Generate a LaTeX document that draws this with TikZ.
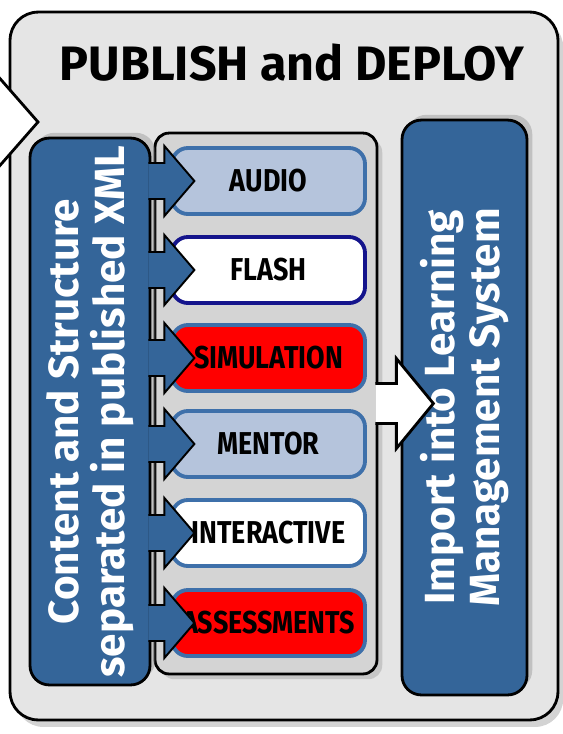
\documentclass[tikz,border=0pt]{standalone}
\usepackage{fontspec}
\setmainfont{Fira Sans}
\newfontfamily\tagfont[FakeStretch=0.85]{Fira Sans}
\usetikzlibrary{shadows, positioning}

\definecolor{boxblue}{RGB}{52,101,153}
\definecolor{tagblue}{RGB}{181,196,220}
\definecolor{tagline}{RGB}{62,112,170}
\definecolor{flashline}{RGB}{20,20,140}
\definecolor{framegray}{RGB}{229,229,229}
\definecolor{traygray}{RGB}{212,212,212}

\begin{document}
\begin{tikzpicture}[
        x=0.02cm, y=-0.02cm,
        frame/.style={draw, line width=1.6pt, rounded corners=16pt, fill=framegray,
            drop shadow={opacity=0.35, shadow xshift=3pt, shadow yshift=-4pt}},
        tray/.style={draw, line width=1.6pt, rounded corners=8pt, fill=traygray, inner sep=0pt,
            drop shadow={opacity=0.3, shadow xshift=3pt, shadow yshift=-3pt}},
        stage/.style={draw, line width=1.6pt, rounded corners=11pt, fill=boxblue, text=white, inner sep=0pt,
            rotate=90, align=center, font=\bfseries\fontsize{24}{26}\selectfont,
            drop shadow={opacity=0.35, shadow xshift=3pt, shadow yshift=3pt}},
        tag/.style={draw=tagline, line width=2.2pt, rounded corners=9pt, inner sep=0pt,
            minimum width=3.86cm, minimum height=1.32cm, font=\tagfont\bfseries\fontsize{18}{20}\selectfont},
        feed/.style={draw, fill=boxblue, line width=1.1pt, line join=miter},
        push/.style={draw, fill=white, line width=1.6pt, line join=miter},
        title/.style={font=\bfseries\fontsize{27.5}{32}\selectfont}
    ]
        \useasboundingbox (0,0) rectangle (563,734);
        \node[frame, minimum width=10.96cm, minimum height=14.16cm] (frame) at (284,366) {};
        % arrow coming in from the previous step
        \coordinate (intip) at (38,122);
        \draw[push] (-4,74) -- (intip) -- (-4,170);
        \node[title] (title) at (292,63) {PUBLISH and DEPLOY};

        \node[tray, minimum width=4.44cm, minimum height=10.82cm] (tray) at (266,403.5) {};
        \node[tag, fill=tagblue] (audio) at (268.5,181) {AUDIO};
        \node[tag, fill=white, draw=flashline] (flash) at (268.5,270) {FLASH};
        \node[tag, fill=red] (sim) at (268.5,358) {SIMULATION};
        \node[tag, fill=tagblue] (mentor) at (268.5,444) {MENTOR};
        \node[tag, fill=white] (inter) at (268.5,533) {INTERACTIVE};
        \node[tag, fill=red] (assess) at (268.5,623) {ASSESSMENTS};

        % rotated box: its south side faces right
        \node[stage, minimum width=10.94cm, minimum height=2.4cm] (xml) at (90,411.5)
            {Content and Structure\\separated in published XML};
        \draw[feed] (xml.south |- audio) ++(-3,18) -- ++(16,0) -- ++(0,17) -- ++(30,-35) -- ++(-30,-35) -- ++(0,17) -- ++(-16,0);
        \draw[feed] (xml.south |- flash) ++(-3,18) -- ++(16,0) -- ++(0,17) -- ++(30,-35) -- ++(-30,-35) -- ++(0,17) -- ++(-16,0);
        \draw[feed] (xml.south |- sim) ++(-3,18) -- ++(16,0) -- ++(0,17) -- ++(30,-35) -- ++(-30,-35) -- ++(0,17) -- ++(-16,0);
        \draw[feed] (xml.south |- mentor) ++(-3,18) -- ++(16,0) -- ++(0,17) -- ++(30,-35) -- ++(-30,-35) -- ++(0,17) -- ++(-16,0);
        \draw[feed] (xml.south |- inter) ++(-3,18) -- ++(16,0) -- ++(0,17) -- ++(30,-35) -- ++(-30,-35) -- ++(0,17) -- ++(-16,0);
        \draw[feed] (xml.south |- assess) ++(-3,18) -- ++(16,0) -- ++(0,17) -- ++(30,-35) -- ++(-30,-35) -- ++(0,17) -- ++(-16,0);

        \node[stage, minimum width=11.5cm, minimum height=2.5cm] (lms) at (464.5,407.5)
            {Import into Learning\\Management System};
        \draw[push] (tray.east) ++(-3,-20) -- ++(21,0) -- ++(0,-25) -- ++(37,45) -- ++(-37,45) -- ++(0,-25) -- ++(-21,0);
    \end{tikzpicture}
\end{document}
